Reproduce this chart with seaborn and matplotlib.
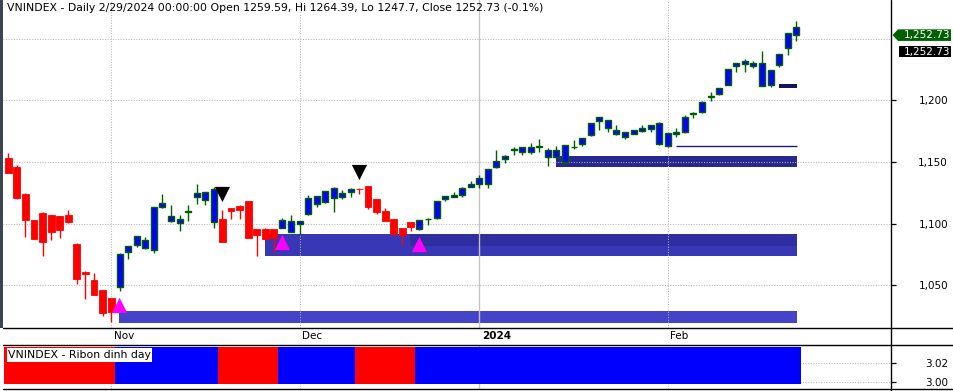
import numpy as np
import pandas as pd
import matplotlib
matplotlib.use("Agg")
import matplotlib.pyplot as plt
import seaborn as sns
from matplotlib.patches import Rectangle, Polygon
from matplotlib.lines import Line2D

# ---------------- data ----------------
holidays = ["2024-01-01", "2024-02-08", "2024-02-09", "2024-02-12", "2024-02-13", "2024-02-14"]
dates = pd.bdate_range("2023-10-16", "2024-02-29")
dates = dates[~dates.isin(pd.to_datetime(holidays))]

opens = [1152.9, 1145.9, 1124.0, 1102.9, 1108.6, 1107.0, 1106.2, 1107.0, 1083.5, 1061.0,
         1054.3, 1046.2, 1039.7, 1048.4, 1076.7, 1082.4, 1080.0, 1078.9, 1113.7, 1101.9,
         1100.2, 1109.4, 1121.8, 1119.1, 1101.1, 1103.7, 1112.4, 1114.3, 1118.3, 1095.6,
         1095.6, 1095.6, 1096.7, 1093.4, 1099.4, 1107.5, 1115.6, 1117.7, 1121.0, 1121.8,
         1125.4, 1128.0, 1130.5, 1119.9, 1110.2, 1103.7, 1096.4, 1101.3, 1095.4, 1103.5,
         1104.3, 1120.2, 1121.8, 1122.9, 1129.9, 1131.8, 1131.8, 1145.6, 1152.1, 1159.7,
         1158.3, 1158.3, 1162.2, 1154.2, 1154.2, 1150.2, 1161.9, 1164.3, 1171.6, 1182.9,
         1177.2, 1172.6, 1170.4, 1172.9, 1175.3, 1176.4, 1164.3, 1162.6, 1172.4, 1174.0,
         1188.9, 1190.2, 1202.6, 1204.8, 1212.6, 1227.5, 1229.6, 1227.5, 1211.8, 1212.6,
         1228.8, 1242.1, 1259.59]
highs = [1157.2, 1147.5, 1124.8, 1103.2, 1109.0, 1107.3, 1106.5, 1111.0, 1084.0, 1061.3,
         1060.0, 1046.5, 1040.0, 1076.2, 1082.0, 1090.0, 1088.9, 1113.5, 1124.0, 1115.0,
         1107.0, 1115.0, 1132.1, 1125.6, 1129.4, 1111.0, 1112.8, 1115.0, 1118.6, 1096.0,
         1096.4, 1096.0, 1104.3, 1107.0, 1102.4, 1123.2, 1122.6, 1126.6, 1129.9, 1127.2,
         1129.1, 1129.1, 1130.8, 1120.2, 1112.4, 1104.0, 1096.7, 1101.6, 1103.2, 1104.2,
         1118.4, 1122.6, 1125.4, 1129.4, 1134.3, 1139.1, 1144.3, 1159.6, 1155.6, 1161.8,
         1162.0, 1165.1, 1168.6, 1161.0, 1162.9, 1163.8, 1167.7, 1169.4, 1181.6, 1186.4,
         1184.0, 1179.9, 1174.3, 1176.2, 1179.9, 1180.0, 1182.1, 1173.5, 1177.2, 1188.0,
         1190.2, 1199.4, 1206.4, 1209.9, 1225.3, 1230.2, 1233.4, 1231.5, 1239.9, 1224.5,
         1237.5, 1254.5, 1264.39]
lows = [1141.0, 1120.0, 1089.4, 1087.5, 1074.0, 1087.0, 1088.6, 1100.7, 1050.8, 1038.7,
        1042.2, 1025.4, 1020.3, 1045.6, 1071.6, 1081.3, 1079.5, 1076.4, 1112.9, 1101.0,
        1094.2, 1102.0, 1116.1, 1115.1, 1096.7, 1085.0, 1103.7, 1103.7, 1088.0, 1074.0,
        1087.0, 1077.2, 1096.3, 1093.0, 1090.8, 1107.0, 1113.7, 1117.0, 1109.4, 1119.7,
        1121.3, 1124.0, 1111.8, 1107.8, 1102.0, 1091.0, 1082.7, 1094.2, 1095.0, 1099.1,
        1104.0, 1118.6, 1121.5, 1121.3, 1129.6, 1129.1, 1129.1, 1144.8, 1149.4, 1155.8,
        1155.8, 1156.4, 1158.3, 1146.9, 1152.0, 1148.0, 1160.4, 1163.1, 1171.3, 1176.1,
        1174.5, 1171.8, 1168.6, 1172.6, 1174.5, 1174.5, 1164.0, 1162.3, 1170.4, 1173.7,
        1185.8, 1190.0, 1199.6, 1204.5, 1212.3, 1223.1, 1223.1, 1226.3, 1211.5, 1210.9,
        1227.1, 1236.9, 1247.7]
closes = [1141.2, 1121.0, 1103.2, 1087.8, 1085.3, 1093.4, 1095.0, 1101.5, 1055.3, 1059.4,
          1042.4, 1027.8, 1028.6, 1075.4, 1081.6, 1089.7, 1086.5, 1113.2, 1116.4, 1106.2,
          1103.5, 1109.8, 1124.8, 1125.4, 1127.8, 1085.3, 1110.5, 1111.0, 1088.6, 1091.0,
          1087.5, 1088.6, 1102.9, 1102.1, 1102.1, 1120.5, 1122.4, 1126.4, 1129.1, 1125.0,
          1128.0, 1127.7, 1113.7, 1109.6, 1102.3, 1091.6, 1090.8, 1097.5, 1102.9, 1103.9,
          1118.1, 1122.4, 1123.2, 1128.6, 1131.8, 1136.7, 1144.0, 1150.5, 1154.5, 1160.1,
          1161.8, 1161.8, 1162.6, 1159.4, 1159.4, 1163.5, 1162.3, 1169.1, 1181.3, 1186.1,
          1183.7, 1175.9, 1174.0, 1175.9, 1177.5, 1179.7, 1181.3, 1173.2, 1174.2, 1186.1,
          1189.3, 1198.3, 1203.0, 1209.6, 1225.0, 1229.9, 1231.5, 1229.9, 1229.9, 1224.2,
          1237.2, 1254.2, 1252.73]

# ribbon state per bar: R = red (down phase), B = blue (up phase)
ribbon = list("RRRRRRRRRRRRR" "BBBBBBBBBBBB" "RRRRRRR" "BBBBBBBBB" "RRRRRRR"
              "BBBBBBBBBBBBBBBBBBBBBBBBBBBBBBBBBBBBBBBBBBBBB")

# signals
buy_bars = [13, 32, 48]
buy_prices = [1033.7, 1084.7, 1083.0]
sell_bars = [25, 41]
sell_prices = [1123.6, 1141.4]

# support zones (start bar, low, high)
zone_start = [13, 30, 47, 64]
zone_low = [1019.7, 1073.4, 1082.1, 1146.1]
zone_high = [1029.2, 1091.6, 1091.6, 1155.0]
zone_colors = ["#4444CA", "#3838B6", "#2E2EA0", "#272790"]
level_start = 78
level_price = 1162.9
mark_start = 90
mark_low, mark_high = 1210.1, 1213.4

price_ticks = [1050, 1100, 1150, 1200]
grid_prices = [1050, 1100, 1150, 1200, 1250]
ribbon_ticks = [3.00, 3.02]

# ---------------- style ----------------
sns.set_style("white")
plt.rcParams["font.family"] = ["DejaVu Sans"]

W, H = 954, 391
RED, BLUE, GREEN = "#FF0000", "#0000FF", "#006000"
GRID = "#B8B8B8"
FS = 7.5

fig = plt.figure(figsize=(W / 100, H / 100), dpi=100)
fig.patch.set_facecolor("white")


def fx(px):
    return px / W


def fy(py):
    return 1 - py / H


ax = fig.add_axes([fx(3), fy(328.3), fx(891.5 - 3), 328.3 / H])
ax2 = fig.add_axes([fx(3), fy(389), fx(891.5 - 3), 44 / H])

n = len(dates)
x = np.arange(n)
o, h, l, c = map(np.array, (opens, highs, lows, closes))
blue = np.array([r == "B" for r in ribbon])

ax.set_xlim(-0.62, 103.12)
ax.set_ylim(1015.15, 1281.2)
ax2.set_xlim(-0.62, 103.12)
ax2.set_ylim(2.9932, 3.0381)
for a in (ax, ax2):
    a.set_facecolor("white")
    for s in a.spines.values():
        s.set_visible(False)

# month ticks
month_first = pd.Series(x, index=dates).groupby([dates.year, dates.month]).first()
tick_pos = month_first.values[1:]
tick_dates = [dates[i] for i in tick_pos]
tick_labels = [str(d.year) if d.month == 1 else d.strftime("%b") for d in tick_dates]

# grid
for v in grid_prices:
    ax.axhline(v, color=GRID, lw=0.75, ls=(0, (1, 1.5)), zorder=1.5)
for p, d in zip(tick_pos, tick_dates):
    for a in (ax, ax2):
        if d.month == 1:
            a.axvline(p, color="#C4C4C4", lw=1.0, zorder=1.5)
        else:
            a.axvline(p, color=GRID, lw=0.75, ls=(0, (1, 1.5)), zorder=1.5)
for v in ribbon_ticks:
    ax2.axhline(v, color=GRID, lw=0.75, ls=(0, (1, 1.5)), zorder=1)

# zones
end_bar = n - 1
for s, lo_, hi_, col in zip(zone_start, zone_low, zone_high, zone_colors):
    ax.add_patch(Rectangle((s - 0.05, lo_), end_bar + 0.05 - (s - 0.05), hi_ - lo_,
                           facecolor=col, edgecolor="none", zorder=1))
ax.hlines(level_price, level_start - 0.05, end_bar + 0.05, color="#1E1E80", lw=1.0, zorder=1.2)
ax.add_patch(Rectangle((mark_start - 0.05, mark_low), end_bar + 0.1 - mark_start, mark_high - mark_low,
                       facecolor="#15155E", edgecolor="none", zorder=2))

# candles
body_lo = np.minimum(o, c)
body_h = np.maximum(np.abs(c - o), 0.5)
ax.vlines(x[blue], l[blue], h[blue], color=GREEN, lw=1.0, zorder=3)
ax.vlines(x[~blue], l[~blue], h[~blue], color=RED, lw=1.0, zorder=3)
ax.bar(x[blue], body_h[blue], bottom=body_lo[blue], width=0.7, color=BLUE,
       edgecolor=GREEN, linewidth=1.0, zorder=4)
ax.bar(x[~blue], body_h[~blue], bottom=body_lo[~blue], width=0.8, color=RED,
       edgecolor=RED, linewidth=0.6, zorder=4)

# signals
sns.scatterplot(x=buy_bars, y=buy_prices, marker="^", s=120, color="#FF00FF",
                edgecolor="none", linewidth=0, ax=ax, zorder=5, legend=False)
sns.scatterplot(x=sell_bars, y=sell_prices, marker="v", s=120, color="black",
                edgecolor="none", linewidth=0, ax=ax, zorder=5, legend=False)

# ticks main
ax.yaxis.tick_right()
ax.set_yticks(price_ticks)
ax.set_yticklabels([f"{v:,}" for v in price_ticks])
ax.tick_params(axis="y", direction="out", length=3.5, width=0.9, colors="black",
               labelsize=FS, pad=37.2)
for t in ax.get_yticklabels():
    t.set_ha("right")
ax.set_xticks(tick_pos)
ax.set_xticklabels([])
ax.tick_params(axis="x", direction="out", length=3.8, width=0.9, colors="black")
for p, lab, d in zip(tick_pos, tick_labels, tick_dates):
    ax.annotate(lab, xy=(p, 0), xycoords=("data", "axes fraction"), xytext=(2.6, -7.5),
                textcoords="offset pixels", ha="left", va="center", fontsize=FS,
                fontweight="bold" if d.month == 1 else "normal", color="black")

# ribbon panel
ax2.bar(x, 3.036 - 2.9986, bottom=2.9986, width=1.0,
        color=[BLUE if b else RED for b in blue], linewidth=0, antialiased=False, zorder=2)
ax2.yaxis.tick_right()
ax2.set_yticks(ribbon_ticks)
ax2.set_yticklabels([f"{v:.2f}" for v in ribbon_ticks])
ax2.tick_params(axis="y", direction="out", length=3.5, width=0.9, colors="black",
                labelsize=FS, pad=37.2)
for t in ax2.get_yticklabels():
    t.set_ha("right")
ax2.tick_params(axis="x", length=0, labelbottom=False)

# frame lines
for yy in (328.3, 345, 389):
    fig.add_artist(Line2D([fx(3), 1], [fy(yy), fy(yy)], transform=fig.transFigure,
                          color="black", lw=1.0))
fig.add_artist(Line2D([fx(891.5), fx(891.5)], [0, 1], transform=fig.transFigure,
                      color="black", lw=1.0))
fig.add_artist(Rectangle((0, fy(328.3)), fx(2.8), 328.3 / H, transform=fig.transFigure,
                         facecolor="#3B4452", edgecolor="none"))

# title
pct = (c[-1] / c[-2] - 1) * 100
title = (f"VNINDEX - Daily {dates[-1].month}/{dates[-1].day}/{dates[-1].year} 00:00:00 "
         f"Open {o[-1]:g}, Hi {h[-1]:g}, Lo {l[-1]:g}, Close {c[-1]:g} ({pct:.1f}%)")
tt = fig.text(fx(7.3), fy(7.8), title, ha="left", va="center", fontsize=8, color="black")
fig.canvas.draw()
r = fig.canvas.get_renderer()
wpx = tt.get_window_extent(r).width
tfs = 8 * (541.7 - 7.3) / wpx
tt.set_fontsize(tfs)

# ribbon label
lab = fig.text(fx(7.6), fy(354.8), "VNINDEX - Ribon dinh day", ha="left", va="center",
               fontsize=tfs, color="black", zorder=10)
fig.add_artist(Rectangle((fx(6.7), fy(361.7)), fx(151.7 - 6.7), 14 / H, transform=fig.transFigure,
                         facecolor="white", edgecolor="none", zorder=9))

# last price labels
yc = H - ax.transData.transform((0, c[-1]))[1]
poly = [(892.5, yc), (898, yc - 5.8), (951, yc - 5.8), (951, yc + 5.8), (898, yc + 5.8)]
fig.add_artist(Polygon([(fx(px), fy(py)) for px, py in poly], closed=True,
                       transform=fig.transFigure, facecolor=GREEN, edgecolor="none", zorder=8))
fig.text(fx(950.5), fy(yc), f"{c[-1]:,.2f}", ha="right", va="center", fontsize=FS,
         color="white", zorder=10)
yb = yc + 16.4
fig.add_artist(Rectangle((fx(899), fy(yb + 5.8)), fx(52), 11.6 / H, transform=fig.transFigure,
                         facecolor="black", edgecolor="none", zorder=8))
fig.text(fx(950.5), fy(yb), f"{c[-1]:,.2f}", ha="right", va="center", fontsize=FS,
         color="white", zorder=10)

fig.savefig("out.png", dpi=100, facecolor="white")
